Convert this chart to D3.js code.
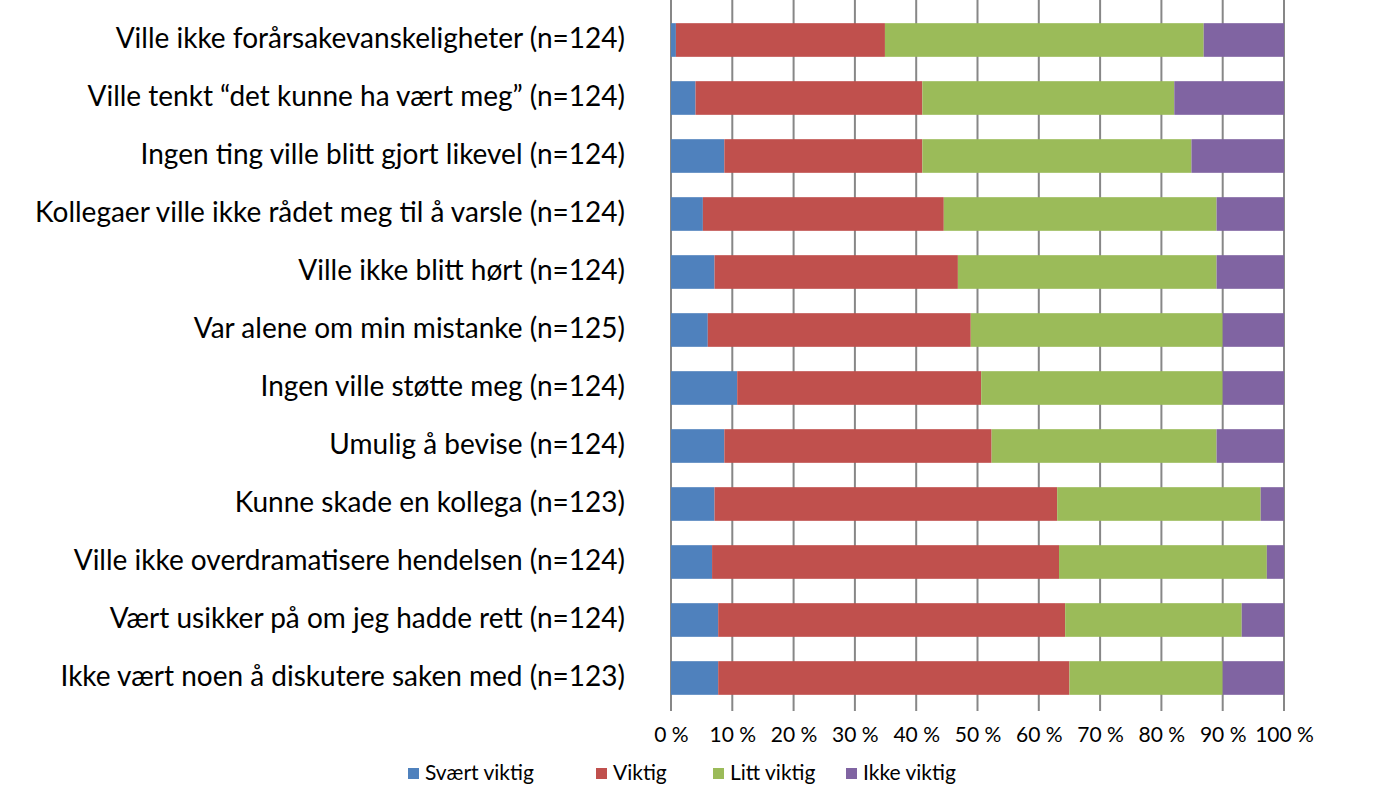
<!DOCTYPE html>
<html><head><meta charset="utf-8">
<script src="https://cdn.jsdelivr.net/npm/d3@7"></script>
<style>html,body{margin:0;padding:0;background:#fff;overflow:hidden}</style>
</head><body>
<svg id="chart" width="1400" height="786"></svg>
<script>
const categories = [
  "Ville ikke forårsakevanskeligheter (n=124)",
  "Ville tenkt \u201cdet kunne ha vært meg\u201d (n=124)",
  "Ingen ting ville blitt gjort likevel (n=124)",
  "Kollegaer ville ikke rådet meg til å varsle (n=124)",
  "Ville ikke blitt hørt (n=124)",
  "Var alene om min mistanke (n=125)",
  "Ingen ville støtte meg (n=124)",
  "Umulig å bevise (n=124)",
  "Kunne skade en kollega (n=123)",
  "Ville ikke overdramatisere hendelsen (n=124)",
  "Vært usikker på om jeg hadde rett (n=124)",
  "Ikke vært noen å diskutere saken med (n=123)"
];
const seriesNames = ["Svært viktig", "Viktig", "Litt viktig", "Ikke viktig"];
const svaertViktig = [0.8, 4.0, 8.7, 5.2, 7.1, 6.0, 10.8, 8.7, 7.1, 6.7, 7.7, 7.7];
const viktig       = [34.1, 37.0, 32.3, 39.3, 39.7, 42.9, 39.8, 43.6, 55.9, 56.6, 56.6, 57.3];
const littViktig   = [52.0, 41.1, 43.9, 44.5, 42.2, 41.1, 39.4, 36.7, 33.2, 33.9, 28.8, 25.0];
const ikkeViktig   = [13.1, 17.9, 15.1, 11.0, 11.0, 10.0, 10.0, 11.0, 3.8, 2.8, 6.9, 10.0];
const tickValues = [0, 10, 20, 30, 40, 50, 60, 70, 80, 90, 100];
const colors = ["#4F81BD", "#C0504D", "#9BBB59", "#8064A2"];

(function () {
const rows = categories.map((c, i) => ({
  cat: c, s0: svaertViktig[i], s1: viktig[i], s2: littViktig[i], s3: ikkeViktig[i]
}));
const keys = ["s0", "s1", "s2", "s3"];
const stacked = d3.stack().keys(keys)(rows);

const svg = d3.select("#chart");
const pLeft = 671, pRight = 1284, pTop = 11, pBottom = 707;
const x = d3.scaleLinear().domain([0, 100]).range([pLeft, pRight]);
const y = d3.scaleBand().domain(categories).range([pTop, pBottom]).paddingInner(0.42).paddingOuter(0.21);

// gridlines
svg.append("g").selectAll("line").data(tickValues).join("line")
  .attr("x1", d => x(d)).attr("x2", d => x(d))
  .attr("y1", 0).attr("y2", pBottom + 4)
  .attr("stroke", "#878787").attr("stroke-width", 2);

// bars
svg.append("g").selectAll("g").data(stacked).join("g")
  .attr("fill", (d, i) => colors[i])
  .selectAll("rect").data(d => d).join("rect")
  .attr("x", d => x(d[0]))
  .attr("width", d => x(d[1]) - x(d[0]))
  .attr("y", d => y(d.data.cat))
  .attr("height", y.bandwidth());

// category labels
const fontFam = "Lato, 'Open Sans', sans-serif";
svg.append("g").selectAll("text").data(categories).join("text")
  .attr("x", 625).attr("y", d => y(d) + y.bandwidth() / 2 - 2)
  .attr("dy", "0.35em").attr("text-anchor", "end")
  .attr("font-family", fontFam).attr("font-size", 28).attr("fill", "#000")
  .text(d => d);

// x axis tick labels
const xAxis = d3.axisBottom(x).tickValues(tickValues).tickFormat(d => d + " %").tickSize(0).tickPadding(0);
const ax = svg.append("g").attr("transform", `translate(0, ${pBottom + 35})`).call(xAxis);
ax.select(".domain").remove();
ax.selectAll("text").attr("font-family", fontFam).attr("font-size", 21).attr("fill", "#000").attr("dy", "0");

// legend at the bottom edge
const legendX = [408, 596, 713, 846];
const lg = svg.append("g").selectAll("g").data(seriesNames).join("g")
  .attr("transform", (d, i) => `translate(${legendX[i]}, 780)`);
lg.append("rect").attr("x", 0).attr("y", -12).attr("width", 11).attr("height", 11)
  .attr("fill", (d, i) => colors[i]);
lg.append("text").attr("x", 17).attr("y", 0)
  .attr("font-family", fontFam).attr("font-size", 21).attr("fill", "#000")
  .text(d => d);
})();
</script>
</body></html>
